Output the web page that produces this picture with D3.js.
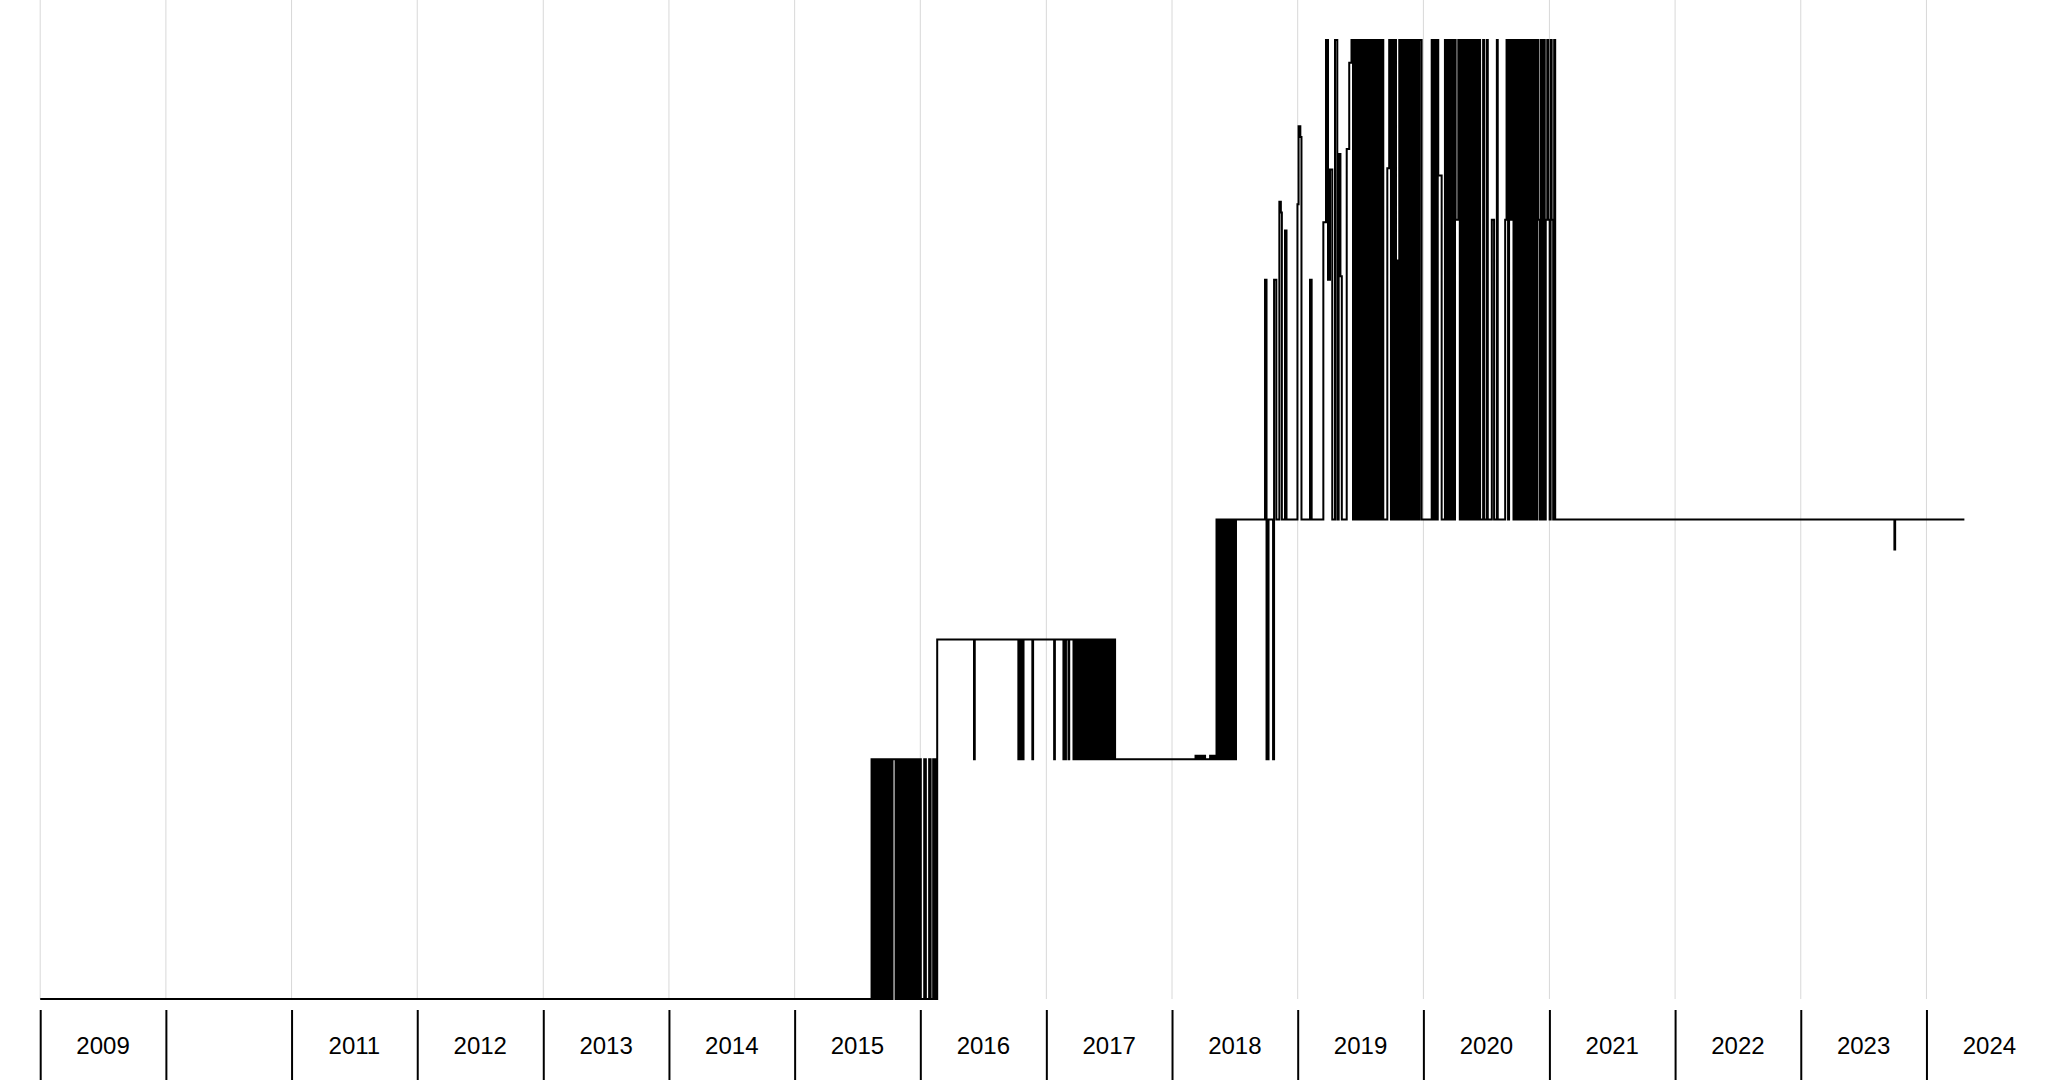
<!DOCTYPE html>
<html>
<head>
<meta charset="utf-8">
<script src="https://cdn.jsdelivr.net/npm/d3@7"></script>
<style>
  html, body { margin: 0; padding: 0; background: #ffffff; }
  svg { display: block; }
</style>
</head>
<body>
<svg id="chart" width="2048" height="1080"></svg>
<script>
// ---- data (decimal year, value) ----
const years = [2009,2010,2011,2012,2013,2014,2015,2016,2017,2018,2019,2020,2021,2022,2023,2024];
const yearLabels = ["2009","","2011","2012","2013","2014","2015","2016","2017","2018","2019","2020","2021","2022","2023","2024"];

const era2009 = [[2009.0,0]];

const era2015 = [[2015.612,2],[2015.624,0],[2015.634,2],[2015.645,0],[2015.655,2],[2015.665,0],[2015.674,2],[2015.680,0],
[2015.685,2],[2015.691,0],[2015.699,2],[2015.709,0],[2015.718,2],[2015.728,0],[2015.739,2],[2015.749,0],[2015.759,2],[2015.770,0],
[2015.779,2],[2015.803,0],[2015.814,2],[2015.824,0],[2015.834,2],[2015.843,0],[2015.856,2],[2015.864,0],[2015.877,2],[2015.885,0],
[2015.896,2],[2015.906,0],[2015.916,2],[2015.927,0],[2015.935,2],[2015.943,0],[2015.957,2],[2015.970,0],[2015.983,2],[2015.991,0],
[2015.998,2],[2016.004,0],[2016.031,2],[2016.044,0],[2016.070,2],[2016.082,0],[2016.102,2],[2016.113,0],[2016.122,2],[2016.130,0],
[2016.134,3]];

const era2016 = [[2016.426,2],[2016.432,3],[2016.778,2],[2016.784,3],[2016.792,2],[2016.798,3],[2016.813,2],[2016.819,3],
[2016.889,2],[2016.895,3],[2017.062,2],[2017.068,3],[2017.136,2],[2017.142,3],[2017.150,2],[2017.156,3],[2017.176,2],[2017.182,3],
[2017.216,2],[2017.226,3],[2017.237,2],[2017.248,3],[2017.259,2],[2017.270,3],[2017.282,2],[2017.293,3],[2017.304,2],[2017.315,3],
[2017.328,2],[2017.340,3],[2017.355,2],[2017.366,3],[2017.377,2],[2017.388,3],[2017.399,2],[2017.410,3],[2017.421,2],[2017.433,3],
[2017.442,2],[2017.453,3],[2017.464,2],[2017.476,3],[2017.487,2],[2017.498,3],[2017.511,2],[2017.522,3],[2017.534,2],[2017.542,3],
[2017.547,2]];

const era2018 = [[2018.187,2.03],[2018.199,2],[2018.215,2.03],[2018.231,2],[2018.247,2.03],[2018.263,2],[2018.303,2.03],[2018.318,2],
[2018.334,2.03],[2018.346,2],[2018.354,4],[2018.366,2],[2018.376,4],[2018.387,2],[2018.396,4],[2018.408,2],[2018.419,4],[2018.430,2],
[2018.442,4],[2018.454,2],[2018.465,4],[2018.476,2],[2018.487,4],[2018.498,2],[2018.509,4],
[2018.740,6],[2018.752,2],[2018.768,4],[2018.804,2],[2018.812,6],[2018.830,4],[2018.854,6.65],[2018.866,6.56],[2018.874,4],
[2018.899,6.41],[2018.911,4],[2018.998,6.63]];

const era2019 = [[2019.007,7.28],[2019.021,7.19],[2019.030,4],[2019.098,6],[2019.111,4],[2019.204,6.48],[2019.225,8],[2019.241,6],
[2019.257,6.92],[2019.275,4],[2019.297,8],[2019.315,4],[2019.326,7.05],[2019.340,6.03],[2019.351,4],[2019.390,7.09],[2019.410,7.81],
[2019.428,8],[2019.440,4],[2019.448,8],[2019.460,4],[2019.468,8],[2019.480,4],[2019.487,8],[2019.499,4],[2019.507,8],[2019.519,4],
[2019.527,8],[2019.539,4],[2019.547,8],[2019.559,4],[2019.567,8],[2019.579,4],[2019.587,8],[2019.599,4],[2019.607,8],[2019.619,4],
[2019.627,8],[2019.639,4],[2019.647,8],[2019.658,4],[2019.666,8],[2019.681,4],
[2019.713,6.93],[2019.728,8],[2019.742,4],[2019.750,8],[2019.762,4],[2019.770,8],[2019.782,4],[2019.787,6.16],[2019.800,4],
[2019.808,8],[2019.821,4],[2019.829,8],[2019.841,4],[2019.849,8],[2019.861,4],[2019.869,8],[2019.881,4],[2019.889,8],[2019.901,4],
[2019.909,8],[2019.921,4],[2019.929,8],[2019.941,4],[2019.949,8],[2019.961,4],[2019.969,8],[2019.986,4]];

const era2020 = [[2020.066,8],[2020.076,4],[2020.084,8],[2020.092,4],[2020.097,8],[2020.108,4],[2020.114,8],[2020.118,6.87],[2020.145,4],
[2020.171,8],[2020.183,4],[2020.191,8],[2020.203,4],[2020.211,8],[2020.223,4],[2020.231,8],[2020.243,4],[2020.251,8],[2020.256,6.5],
[2020.277,8],[2020.289,4],[2020.297,8],[2020.309,4],[2020.317,8],[2020.329,4],[2020.337,8],[2020.349,4],[2020.357,8],[2020.369,4],
[2020.377,8],[2020.388,4],[2020.396,8],[2020.408,4],[2020.416,8],[2020.428,4],[2020.436,8],[2020.450,4],
[2020.474,8],[2020.482,4],[2020.503,8],[2020.511,4],[2020.543,6.5],[2020.561,4],[2020.583,8],[2020.590,4],
[2020.649,6.5],[2020.660,8],[2020.672,4],[2020.680,8],[2020.692,6.5],[2020.704,8],[2020.715,4],[2020.722,8],[2020.734,4],[2020.742,8],
[2020.754,4],[2020.762,8],[2020.776,4],[2020.784,8],[2020.796,4],[2020.804,8],[2020.816,4],[2020.823,8],[2020.835,4],[2020.843,8],
[2020.855,4],[2020.863,8],[2020.875,4],[2020.883,8],[2020.895,4],[2020.903,8],[2020.911,6.5],[2020.923,4],[2020.931,8],[2020.943,4],
[2020.951,8],[2020.963,4],[2020.971,6.5],[2020.983,8],[2020.990,6.5],[2021.002,4],[2021.010,8],[2021.018,6.5],[2021.030,4],
[2021.038,8],[2021.046,4]];

const era2023 = [[2023.745,3.75],[2023.751,4],[2024.301,4]];

// ---- drawing ----
const series = [].concat(era2009, era2015, era2016, era2018, era2019, era2020, era2023);

function decToDate(d) {
  const yr = Math.floor(d);
  const s = Date.UTC(yr, 0, 1), e = Date.UTC(yr + 1, 0, 1);
  return new Date(s + (d - yr) * (e - s));
}

const svg = d3.select("#chart");
const x = d3.scaleUtc()
  .domain([new Date(Date.UTC(2009,0,1)), new Date(Date.UTC(2024,0,1))])
  .range([40.2, 1926.45]);
const y = d3.scaleLinear().domain([0, 8]).range([999, 40]);

// vertical grid
svg.append("g").selectAll("line").data(years).join("line")
  .attr("x1", d => x(decToDate(d))).attr("x2", d => x(decToDate(d)))
  .attr("y1", 0).attr("y2", 999)
  .attr("stroke", "#d8d8d8").attr("stroke-width", 1);

// step line
const line = d3.line()
  .x(d => x(decToDate(d[0])))
  .y(d => y(d[1]))
  .curve(d3.curveStepAfter);

svg.append("path").datum(series)
  .attr("d", line)
  .attr("fill", "none")
  .attr("stroke", "#000")
  .attr("stroke-width", 2);

// axis ticks
const axis = d3.axisBottom(x)
  .tickValues(years.map(decToDate))
  .tickSize(72)
  .tickFormat("");
const ag = svg.append("g").attr("transform", "translate(0,1010)").call(axis);
ag.select(".domain").remove();
ag.selectAll(".tick line").attr("stroke", "#000").attr("stroke-width", 2);

// labels centered in each year interval
svg.append("g").selectAll("text").data(years).join("text")
  .attr("x", (d, i) => x(decToDate(d + 0.5)))
  .attr("y", 1054)
  .attr("text-anchor", "middle")
  .attr("font-family", "'Liberation Sans', Arial, sans-serif")
  .attr("font-size", 24)
  .attr("fill", "#000")
  .text((d, i) => yearLabels[i]);
</script>
</body>
</html>
